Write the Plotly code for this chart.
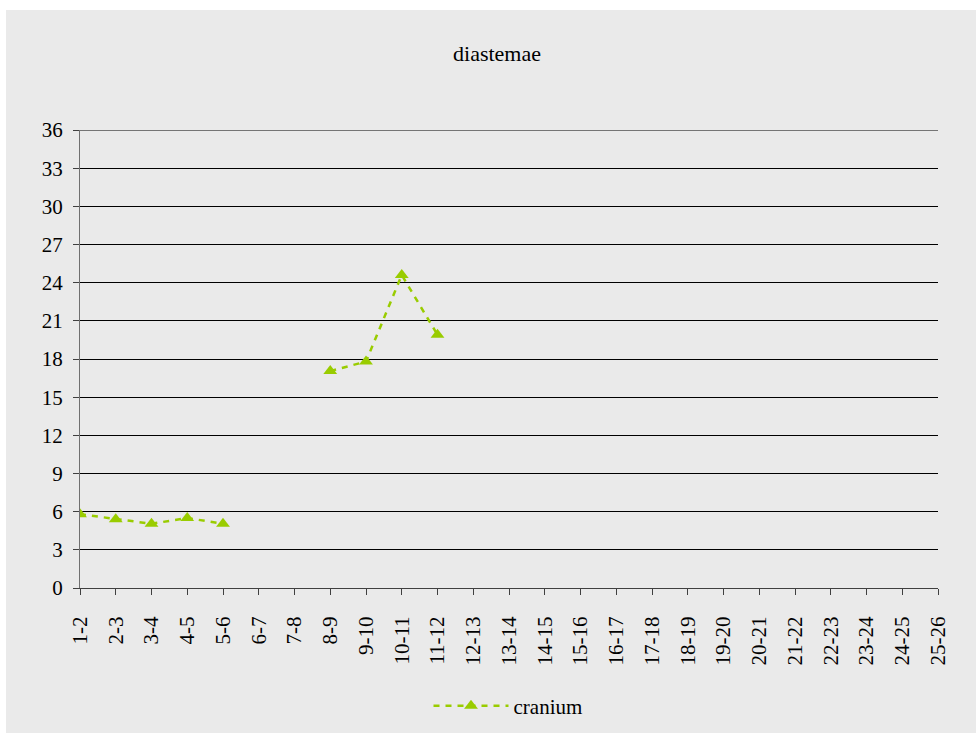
import plotly.graph_objects as go

# Tooth-gap categories along the jaw
categories = ["1-2", "2-3", "3-4", "4-5", "5-6", "6-7", "7-8", "8-9", "9-10",
              "10-11", "11-12", "12-13", "13-14", "14-15", "15-16", "16-17",
              "17-18", "18-19", "19-20", "20-21", "21-22", "22-23", "23-24",
              "24-25", "25-26"]

# Diastema measurements for the cranium (None = no value)
cranium = [5.8, 5.4, 5.05, 5.5, 5.05, None, None, 17.05, 17.8,
           24.6, 19.9, None, None, None, None, None,
           None, None, None, None, None, None, None,
           None, None]

y_ticks = list(range(0, 37, 3))

W, H = 976, 733
L, R, T, B = 80, 38, 130, 145
pw, ph = W - L - R, H - T - B

def px_x(p):
    return (p - L) / pw

def px_y(p):
    return (H - B - p) / ph

green = "#99CC00"
serif = "Liberation Serif"

fig = go.Figure()
fig.add_trace(go.Scatter(
    x=categories, y=cranium, name="cranium", mode="lines+markers",
    line=dict(color=green, width=2.5, dash="6px,6px"),
    marker=dict(symbol="triangle-up", size=12, color=green),
    connectgaps=False,
))

# grey chart area inset from the white page edge
fig.add_shape(type="rect", xref="paper", yref="paper", layer="below",
              x0=px_x(6), x1=px_x(W + 5), y0=px_y(H + 5), y1=px_y(10),
              fillcolor="#EAEAEA", line=dict(width=0))
# top gridline at the upper end of the value axis
fig.add_shape(type="line", xref="paper", yref="y", layer="below",
              x0=0, x1=1, y0=y_ticks[-1], y1=y_ticks[-1],
              line=dict(color="black", width=1))

fig.update_layout(
    width=W, height=H,
    margin=dict(l=L, r=R, t=T, b=B, autoexpand=False),
    paper_bgcolor="white", plot_bgcolor="rgba(0,0,0,0)",
    font=dict(family=serif, size=21, color="black"),
    title=dict(text="diastemae", x=497 / W, xanchor="center",
               y=1 - 53 / H, yanchor="middle", font=dict(size=22)),
    showlegend=True,
    legend=dict(orientation="h", x=px_x(508), xanchor="center",
                y=px_y(706), yanchor="middle", bgcolor="rgba(0,0,0,0)",
                itemwidth=75, font=dict(size=21)),
    xaxis=dict(type="category", categoryorder="array", categoryarray=categories,
               range=[0, len(categories) - 1], tickangle=-90, automargin=False,
               showgrid=False, showline=True, linecolor="#404040", linewidth=1,
               ticks="outside", ticklen=6, tickcolor="#404040",
               ticklabelstandoff=13, tickfont=dict(size=21), zeroline=False),
    yaxis=dict(range=[0, 36], tickvals=y_ticks, showgrid=True, automargin=False,
               gridcolor="black", gridwidth=1, showline=True,
               linecolor="#707070", linewidth=1, ticks="outside", ticklen=6,
               tickcolor="#404040", ticklabelstandoff=6,
               tickfont=dict(size=21), zeroline=False),
)

fig.write_html("out.html")
